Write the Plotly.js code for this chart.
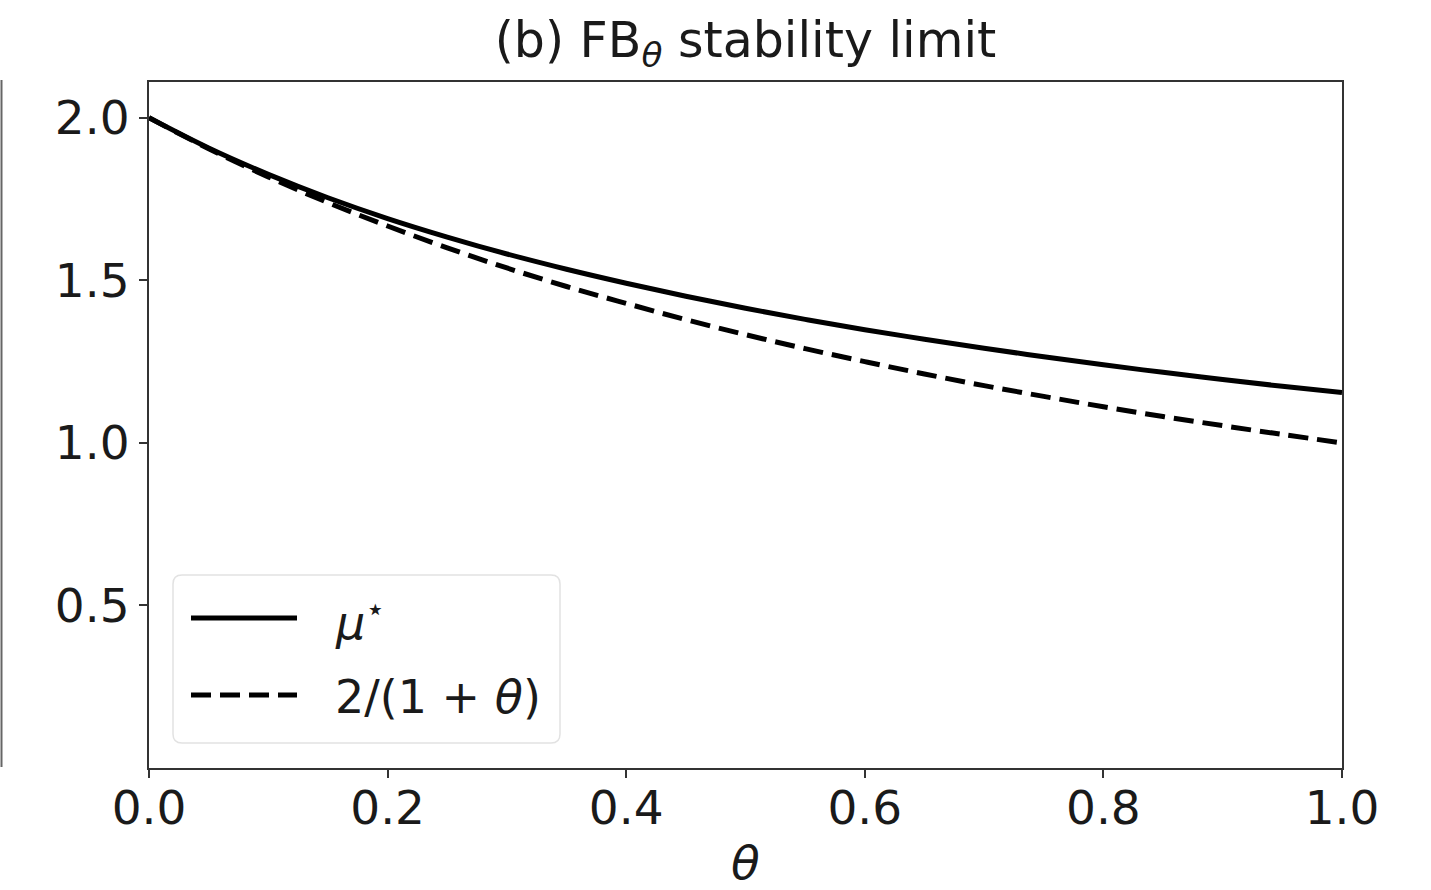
<!DOCTYPE html>
<html>
<head>
<meta charset="utf-8">
<script src="https://cdn.plot.ly/plotly-3.0.1.min.js"></script>
<style>html,body{margin:0;padding:0;background:#fff;}#chart{width:1431px;height:890px;}</style>
</head>
<body>
<div id="chart"></div>
<script>
// Data
const theta = [0.00, 0.05, 0.10, 0.15, 0.20, 0.25, 0.30, 0.35, 0.40, 0.45, 0.50,
               0.55, 0.60, 0.65, 0.70, 0.75, 0.80, 0.85, 0.90, 0.95, 1.00];
const muStar = [2.000, 1.907, 1.826, 1.754, 1.690, 1.633, 1.581, 1.534, 1.491, 1.451, 1.414,
                1.380, 1.348, 1.319, 1.291, 1.265, 1.240, 1.217, 1.195, 1.174, 1.155];
const bound = [2.000, 1.905, 1.818, 1.739, 1.667, 1.600, 1.538, 1.481, 1.429, 1.379, 1.333,
               1.290, 1.250, 1.212, 1.176, 1.143, 1.111, 1.081, 1.053, 1.026, 1.000];
const seriesNames = ['<i>μ</i><sup>⋆</sup>', '2/(1 + <i>θ</i>)'];
const xTicks = [0.0, 0.2, 0.4, 0.6, 0.8, 1.0];
const xTickText = ['0.0', '0.2', '0.4', '0.6', '0.8', '1.0'];
const yTicks = [0.5, 1.0, 1.5, 2.0];
const yTickText = ['0.5', '1.0', '1.5', '2.0'];

// Layout geometry (pixels)
const W = 1431, H = 890;
const L = 149, R = 1342, T = 82, B = 768;
const px = v => (v - L) / (R - L);
const py = v => (B - v) / (B - T);

const FONT = 'DejaVu Sans, sans-serif';
const TXT = '#1a1a1a';
const AX = '#333333';

const traces = [
  {x: theta, y: muStar, name: seriesNames[0], type: 'scatter', mode: 'lines',
   line: {color: '#000', width: 5, shape: 'spline'}, showlegend: false, hoverinfo: 'x+y'},
  {x: theta, y: bound, name: seriesNames[1], type: 'scatter', mode: 'lines',
   line: {color: '#000', width: 5, dash: '20px,9px', shape: 'spline'}, showlegend: false, hoverinfo: 'x+y'}
];

// legend box (rounded)
const lx0 = 173, lx1 = 560, ly0 = 575, ly1 = 743, r = 9;
function rr(x0, y0, x1, y1, rad) {
  const X = v => px(v).toFixed(5), Y = v => py(v).toFixed(5);
  return `M ${X(x0 + rad)},${Y(y0)} L ${X(x1 - rad)},${Y(y0)} Q ${X(x1)},${Y(y0)} ${X(x1)},${Y(y0 + rad)} ` +
         `L ${X(x1)},${Y(y1 - rad)} Q ${X(x1)},${Y(y1)} ${X(x1 - rad)},${Y(y1)} ` +
         `L ${X(x0 + rad)},${Y(y1)} Q ${X(x0)},${Y(y1)} ${X(x0)},${Y(y1 - rad)} ` +
         `L ${X(x0)},${Y(y0 + rad)} Q ${X(x0)},${Y(y0)} ${X(x0 + rad)},${Y(y0)} Z`;
}

const shapes = [
  // fragment of neighbouring panel's frame at far left
  {type: 'line', xref: 'paper', yref: 'paper', x0: px(1.5), x1: px(1.5), y0: py(80), y1: py(767),
   line: {color: '#666', width: 2}},
  {type: 'path', xref: 'paper', yref: 'paper', path: rr(lx0, ly0, lx1, ly1, r),
   fillcolor: 'rgba(255,255,255,0.85)', line: {color: '#e2e2e2', width: 1.5}},
  {type: 'line', xref: 'paper', yref: 'paper', x0: px(191), x1: px(297), y0: py(618), y1: py(618),
   line: {color: '#000', width: 5}},
  {type: 'line', xref: 'paper', yref: 'paper', x0: px(191), x1: px(297), y0: py(695), y1: py(695),
   line: {color: '#000', width: 5, dash: '20px,9px'}}
];

const annotations = [
  {xref: 'paper', yref: 'paper', x: px(333), y: py(620), xanchor: 'left', yanchor: 'middle',
   text: seriesNames[0], showarrow: false, font: {family: FONT, size: 46, color: TXT}},
  {xref: 'paper', yref: 'paper', x: px(333), y: py(697), xanchor: 'left', yanchor: 'middle',
   text: seriesNames[1], showarrow: false, font: {family: FONT, size: 46, color: TXT}}
];

const layout = {
  width: W, height: H,
  margin: {l: L, r: W - R, t: T, b: H - B, pad: 0},
  paper_bgcolor: '#fff', plot_bgcolor: '#fff',
  showlegend: false,
  title: {text: '(b) FB<sub><i>θ</i></sub> stability limit', x: (L + R) / 2 / W, xanchor: 'center',
          y: 1 - 40 / H, yanchor: 'middle', yref: 'container',
          font: {family: FONT, size: 49, color: TXT}},
  xaxis: {range: [0, 1], tickvals: xTicks, ticktext: xTickText, ticks: 'outside', ticklen: 8, tickwidth: 2,
          tickcolor: AX, showline: true, linecolor: AX, linewidth: 2, mirror: true, showgrid: false,
          zeroline: false, tickfont: {family: FONT, size: 47, color: TXT}, ticklabelstandoff: -10,
          title: {text: '<i>θ</i>', font: {family: FONT, size: 47, color: TXT}, standoff: 12}},
  yaxis: {range: [0, 2.11], tickvals: yTicks, ticktext: yTickText, ticks: 'outside', ticklen: 8, tickwidth: 2,
          tickcolor: AX, showline: true, linecolor: AX, linewidth: 2, mirror: true, showgrid: false,
          zeroline: false, tickfont: {family: FONT, size: 47, color: TXT}},
  shapes: shapes,
  annotations: annotations
};

Plotly.newPlot('chart', traces, layout, {displayModeBar: false, staticPlot: true});
</script>
</body>
</html>
